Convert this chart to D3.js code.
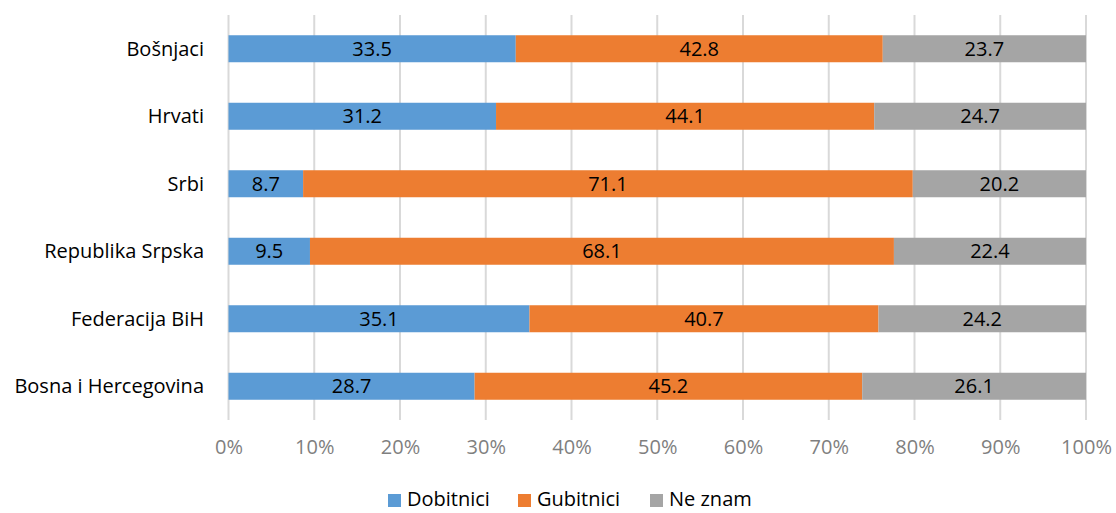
<!DOCTYPE html>
<html><head><meta charset="utf-8">
<script src="https://cdn.jsdelivr.net/npm/d3@7"></script>
<style>body{margin:0;background:#fff;} text{font-family:"Open Sans",Lato,sans-serif;}</style>
</head><body><svg id="c" width="1116" height="513"></svg>
<script>
const categories = ["Bošnjaci","Hrvati","Srbi","Republika Srpska","Federacija BiH","Bosna i Hercegovina"];
const seriesNames = ["Dobitnici","Gubitnici","Ne znam"];
const dobitnici = [33.5,31.2,8.7,9.5,35.1,28.7];
const gubitnici = [42.8,44.1,71.1,68.1,40.7,45.2];
const neZnam = [23.7,24.7,20.2,22.4,24.2,26.1];
const colors = ["#5B9BD5","#ED7D31","#A5A5A5"];
const tickValues = [0,0.1,0.2,0.3,0.4,0.5,0.6,0.7,0.8,0.9,1];

const FS = 20;
const svg = d3.select("#c");
const x = d3.scaleLinear().domain([0,1]).range([228.5,1086]);
const y = d3.scaleBand().domain(categories).range([15,420]).paddingInner(0.6).paddingOuter(0.3);

const rows = categories.map((c,i)=>({cat:c, vals:[dobitnici[i],gubitnici[i],neZnam[i]]}));

// grid
svg.append("g").selectAll("line").data(tickValues).join("line")
 .attr("x1",d=>x(d)).attr("x2",d=>x(d)).attr("y1",15).attr("y2",420)
 .attr("stroke","#D9D9D9").attr("stroke-width",2);

// bars
rows.forEach(r=>{
  const total = d3.sum(r.vals);
  let acc = 0;
  r.vals.forEach((v,k)=>{
    const x0 = x(acc/total), x1 = x((acc+v)/total);
    svg.append("rect").attr("x",x0).attr("y",y(r.cat)).attr("width",x1-x0).attr("height",y.bandwidth()).attr("fill",colors[k]);
    svg.append("text").attr("x",(x0+x1)/2).attr("y",y(r.cat)+y.bandwidth()/2).attr("dy","0.36em")
      .attr("text-anchor","middle").attr("font-size",FS).attr("fill","#000").text(v.toFixed(1));
    acc += v;
  });
});

// y axis labels
svg.append("g").selectAll("text").data(categories).join("text")
 .attr("x",204).attr("y",d=>y(d)+y.bandwidth()/2).attr("dy","0.36em").attr("text-anchor","end")
 .attr("font-size",FS).attr("fill","#000").text(d=>d);

// x axis
const xa = svg.append("g").attr("transform","translate(0,437)")
 .call(d3.axisBottom(x).tickValues(tickValues).tickFormat(d3.format(".0%")).tickSize(0));
xa.select(".domain").remove();
xa.selectAll("text").attr("font-size",FS).attr("fill","#7F7F7F").attr("font-family","'Open Sans',sans-serif");

// legend
const legX = [388,518,650];
const lg = svg.append("g");
seriesNames.forEach((n,i)=>{
  lg.append("rect").attr("x",legX[i]).attr("y",494).attr("width",13).attr("height",13).attr("fill",colors[i]);
  lg.append("text").attr("x",legX[i]+19).attr("y",499).attr("dy","0.36em").attr("font-size",FS).attr("fill","#000").text(n);
});
</script></body></html>
